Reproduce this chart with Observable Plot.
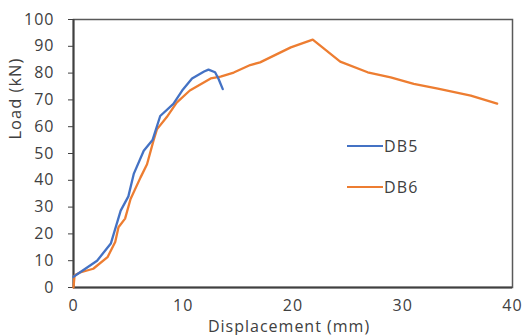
<!DOCTYPE html>
<html><head><meta charset="utf-8">
<script src="https://cdn.jsdelivr.net/npm/d3@7"></script>
<script src="https://cdn.jsdelivr.net/npm/@observablehq/plot@0.6"></script>
<style>
body{margin:0;background:#fff;font-family:"Open Sans",sans-serif;}
#wrap{position:relative;width:523px;height:335px;overflow:hidden;}
.leg{position:absolute;display:flex;align-items:center;font-size:16px;letter-spacing:1.2px;color:#404040;}
.leg span.sw{display:inline-block;width:36px;height:2px;margin-right:1px;}
</style></head><body>
<div id="wrap"></div>
<script>
const db5X = [0, 2.15, 3.4, 4.3, 5.0, 5.5, 6.4, 7.2, 7.9, 9.1, 9.9, 10.8, 11.9, 12.3, 12.9, 13.2, 13.6];
const db5Y = [4, 10, 16.4, 28.7, 34, 42.5, 51, 55, 64, 68.5, 73.5, 78, 80.6, 81.3, 80.3, 78, 74];
const db6X = [0, 0.1, 0.6, 1.8, 3.1, 3.8, 4.1, 4.7, 5.2, 6.1, 6.7, 7.3, 7.6, 8.5, 9.4, 10.6, 12.5, 13.4, 14.6, 16.1, 17, 19.8, 21.8, 24.3, 26.8, 28.9, 31, 33.2, 36.2, 38.6];
const db6Y = [0, 4.6, 5.6, 7, 11.3, 17, 22.5, 25.7, 33, 41, 46, 55, 59, 63.6, 69, 73.5, 78, 78.7, 80.2, 83, 84, 89.6, 92.5, 84.3, 80.3, 78.4, 76, 74.2, 71.6, 68.6];
const xTicks = [0, 10, 20, 30, 40];
const yTicks = [0, 10, 20, 30, 40, 50, 60, 70, 80, 90, 100];
const xLabel = "Displacement (mm)";
const yLabel = "Load (kN)";
const seriesNames = ["DB5", "DB6"];
const seriesColors = ["#4472C4", "#ED7D31"];

const db5 = db5X.map((x, i) => ({x, y: db5Y[i]}));
const db6 = db6X.map((x, i) => ({x, y: db6Y[i]}));

const chart = Plot.plot({
  width: 523, height: 335,
  marginLeft: 73, marginTop: 19, marginRight: 11, marginBottom: 48,
  style: {fontFamily: "Open Sans, sans-serif", fontSize: "16px", color: "#404040", background: "#fff", letterSpacing: "1px", overflow: "visible"},
  x: {domain: [0, 40], ticks: xTicks, label: null},
  y: {domain: [0, 100], ticks: yTicks, label: null},
  marks: [
    Plot.frame({stroke: "#595959", strokeWidth: 1.5}),
    Plot.axisX({ticks: xTicks, tickSize: 0, tickPadding: 12, fontSize: 16, label: null}),
    Plot.axisY({ticks: yTicks, tickSize: 5, tickPadding: 14, fontSize: 16, label: null}),
    Plot.ruleX([0], {stroke: "#404040", strokeWidth: 2}),
    Plot.ruleY([0], {stroke: "#404040", strokeWidth: 2}),
    Plot.text([xLabel], {text: d => d, frameAnchor: "bottom", dy: 44.5, dx: -4, fontSize: 16, letterSpacing: "1.3px", fill: "#404040"}),
    Plot.text([yLabel], {text: d => d, frameAnchor: "left", dx: -58, dy: -14, rotate: -90, fontSize: 16.5, fill: "#404040"}),
    Plot.line(db6, {x: "x", y: "y", stroke: seriesColors[1], strokeWidth: 2.3}),
    Plot.line(db5, {x: "x", y: "y", stroke: seriesColors[0], strokeWidth: 2.3})
  ]
});
const wrap = document.getElementById("wrap");
wrap.appendChild(chart);
const legTops = [135, 176];
seriesNames.forEach((n, i) => {
  const d = document.createElement("div");
  d.className = "leg";
  d.style.left = "347px";
  d.style.top = legTops[i] + "px";
  d.innerHTML = `<span class="sw" style="background:${seriesColors[i]}"></span>${n}`;
  wrap.appendChild(d);
});
</script></body></html>
